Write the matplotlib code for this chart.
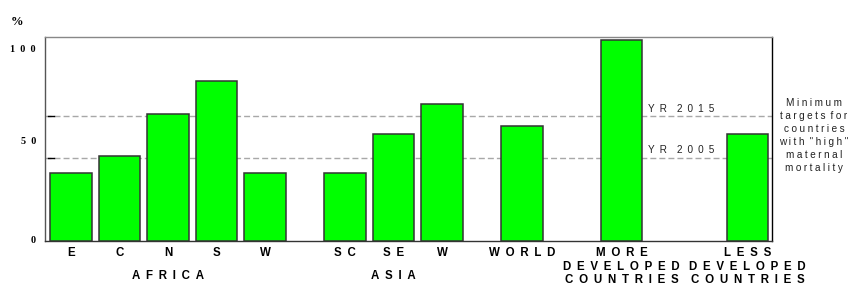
import matplotlib
matplotlib.use("Agg")
import matplotlib.pyplot as plt
import numpy as np

# ── Data ────────────────────────────────────────────────────────────────────
REGIONS = ["E", "C", "N", "S", "W", "SC", "SE", "W", "WORLD",
           "MORE\nDEVELOPED\nCOUNTRIES", "LESS\nDEVELOPED\nCOUNTRIES"]
VALUES = [33, 41, 61, 77, 33, 33, 51.5, 66, 55.5, 96.5, 51.5]
GROUPS = {"AFRICA": [0, 1, 2, 3, 4], "ASIA": [5, 6, 7]}
TARGETS = {"YR 2015": 60, "YR 2005": 40}
YTICK_LABELS = ["0", "50", "100"]
NOTE = "Minimum\ntargets for\ncountries\nwith \"high\"\nmaternal\nmortality"

# ── Layout ──────────────────────────────────────────────────────────────────
POS = [0, 1, 2, 3, 4, 5.65, 6.65, 7.65, 9.3, 11.35, 13.95]
YTICK_POS = [1, 48.5, 92.5]  # label placement as drawn in the source chart
SANS = ["Liberation Sans", "DejaVu Sans"]
SERIF = ["Liberation Serif", "DejaVu Serif"]
GREEN = "#00ff00"
EN = "\u2002"
QUARTER = "\u2005"


def spaced(s: str, gap: str = EN) -> str:
    # emulate the wide letter tracking of the original
    out = []
    for line in s.split("\n"):
        out.append((gap * 2).join(gap.join(w) for w in line.split(" ")))
    return "\n".join(out)


fig = plt.figure(figsize=(8.54, 2.87), dpi=100)
ax = fig.add_axes([45 / 854, 1 - 241.3 / 287, 727 / 854, 204.3 / 287])

ax.bar(POS, VALUES, width=0.855, color=GREEN, edgecolor="#333333", linewidth=1.1, zorder=3)

for name, t in TARGETS.items():
    ax.axhline(t, color="#a8a8a8", linewidth=1.0, linestyle=(0, (4.3, 2.2)), zorder=2)
    ax.plot([0.004, 0.013], [t, t], transform=ax.get_yaxis_transform(),
            color="black", linewidth=1.0, zorder=4)
    ax.text(12.58, t + 1.2, spaced(name), ha="center", va="bottom",
            fontsize=7.2, family=SANS, color="#222222", zorder=5)

ax.set_xlim(-0.536, 14.45)
ax.set_ylim(0, 98)

ax.set_xticks(POS, [spaced(r) for r in REGIONS], fontsize=8.3,
              fontweight="bold", family=SANS)
ax.set_yticks(YTICK_POS, [EN.join(s) for s in YTICK_LABELS], fontsize=7.3,
              fontweight="bold", family=SERIF)
ax.tick_params(axis="x", length=0, pad=4.0)
ax.tick_params(axis="y", length=0, pad=6.5)

for name, idx in GROUPS.items():
    x = np.mean([POS[i] for i in idx])
    ax.text(x, -0.17, spaced(name), transform=ax.get_xaxis_transform(),
            ha="center", va="center", fontsize=8.3, fontweight="bold", family=SANS)

ax.spines["top"].set_color("#888888")
ax.spines["left"].set_color("#555555")
ax.spines["right"].set_color("#000000")
ax.spines["bottom"].set_color("#333333")
for s in ax.spines.values():
    s.set_linewidth(1.0)

fig.text(814 / 854, 1 - 135.5 / 287, spaced(NOTE, QUARTER), ha="center", va="center",
         fontsize=7.2, family=SANS, linespacing=1.36, color="#222222")
fig.text(17 / 854, 1 - 22 / 287, "%", ha="center", va="center",
         fontsize=9, fontweight="bold", family=SERIF)

fig.savefig("out.png", dpi=100)
